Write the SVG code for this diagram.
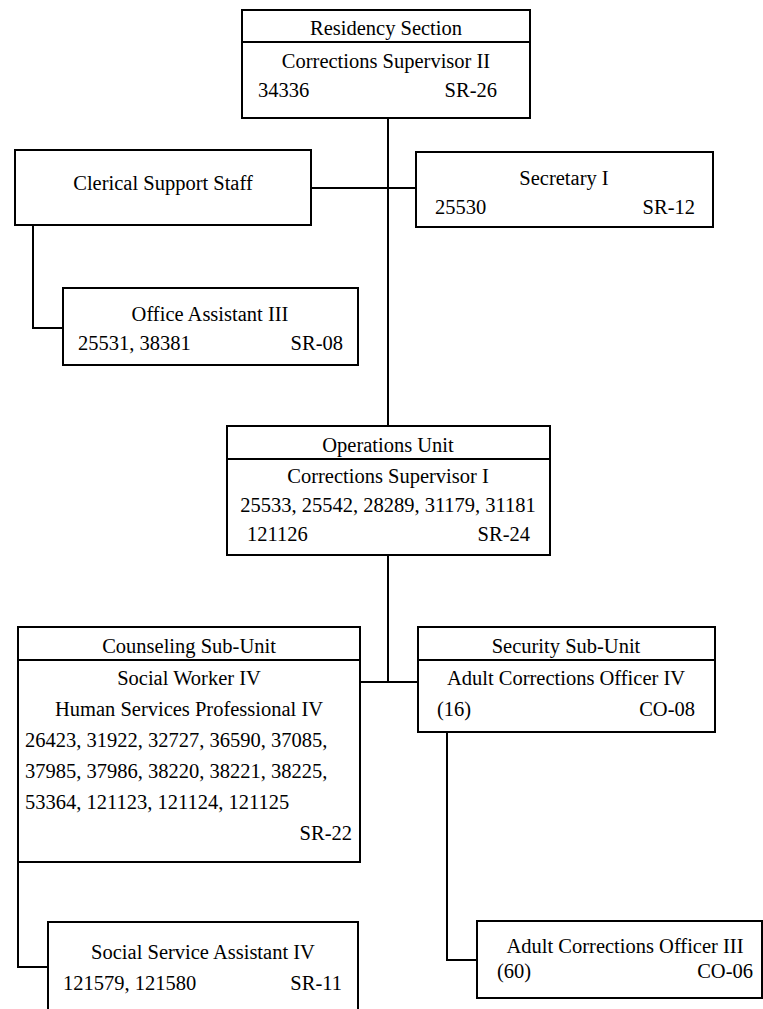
<svg xmlns="http://www.w3.org/2000/svg" width="763" height="1009" viewBox="0 0 763 1009">
<style>
.box{fill:#fff;stroke:#000;stroke-width:2}
.div{stroke:#000;stroke-width:2}
.conn{fill:none;stroke:#000;stroke-width:2}
text{font-family:"Liberation Serif","Times New Roman",serif;font-size:20.5px;fill:#000}
.c{text-anchor:middle}
.r{text-anchor:end}
</style>
<rect width="763" height="1009" fill="#fff"/>
<g id="connectors">
<path class="conn" d="M388,118 V426"/>
<path class="conn" d="M311,188 H416"/>
<path class="conn" d="M33,225 V328 H63"/>
<path class="conn" d="M388,555 V682"/>
<path class="conn" d="M360,682 H418"/>
<path class="conn" d="M18,862 V967 H48"/>
<path class="conn" d="M447,732 V960 H477"/>
</g>
<g id="residency-section">
<rect class="box" x="242" y="10" width="288" height="108"/>
<line class="div" x1="242" y1="42" x2="530" y2="42"/>
<text class="c" x="386" y="35">Residency Section</text>
<text class="c" x="386" y="68">Corrections Supervisor II</text>
<text x="258" y="97">34336</text>
<text class="r" x="497" y="97">SR-26</text>
</g>
<g id="clerical-support">
<rect class="box" x="15" y="150" width="296" height="75"/>
<text class="c" x="163" y="190">Clerical Support Staff</text>
</g>
<g id="secretary">
<rect class="box" x="416" y="152" width="297" height="75"/>
<text class="c" x="564" y="185">Secretary I</text>
<text x="435" y="214">25530</text>
<text class="r" x="695" y="214">SR-12</text>
</g>
<g id="office-assistant">
<rect class="box" x="63" y="288" width="295" height="77"/>
<text class="c" x="210" y="321">Office Assistant III</text>
<text x="78" y="350">25531, 38381</text>
<text class="r" x="343" y="350">SR-08</text>
</g>
<g id="operations-unit">
<rect class="box" x="227" y="426" width="323" height="129"/>
<line class="div" x1="227" y1="459" x2="550" y2="459"/>
<text class="c" x="388" y="452">Operations Unit</text>
<text class="c" x="388" y="483">Corrections Supervisor I</text>
<text class="c" x="388" y="512">25533, 25542, 28289, 31179, 31181</text>
<text x="247" y="541">121126</text>
<text class="r" x="530" y="541">SR-24</text>
</g>
<g id="counseling-sub-unit">
<rect class="box" x="18" y="627" width="342" height="235"/>
<line class="div" x1="18" y1="660" x2="360" y2="660"/>
<text class="c" x="189" y="653">Counseling Sub-Unit</text>
<text class="c" x="189" y="685">Social Worker IV</text>
<text class="c" x="189" y="716">Human Services Professional IV</text>
<text x="25" y="747">26423, 31922, 32727, 36590, 37085,</text>
<text x="25" y="778">37985, 37986, 38220, 38221, 38225,</text>
<text x="25" y="809">53364, 121123, 121124, 121125</text>
<text class="r" x="352" y="840">SR-22</text>
</g>
<g id="security-sub-unit">
<rect class="box" x="418" y="627" width="297" height="105"/>
<line class="div" x1="418" y1="660" x2="715" y2="660"/>
<text class="c" x="566" y="653">Security Sub-Unit</text>
<text class="c" x="566" y="685">Adult Corrections Officer IV</text>
<text x="437" y="716">(16)</text>
<text class="r" x="695" y="716">CO-08</text>
</g>
<g id="social-service-assistant">
<rect class="box" x="48" y="922" width="310" height="100"/>
<text class="c" x="203" y="959">Social Service Assistant IV</text>
<text x="63" y="990">121579, 121580</text>
<text class="r" x="342" y="990">SR-11</text>
</g>
<g id="adult-corrections-officer-iii">
<rect class="box" x="477" y="921" width="285" height="77"/>
<text class="c" x="625" y="953">Adult Corrections Officer III</text>
<text x="497" y="978">(60)</text>
<text class="r" x="753" y="978">CO-06</text>
</g>
</svg>
